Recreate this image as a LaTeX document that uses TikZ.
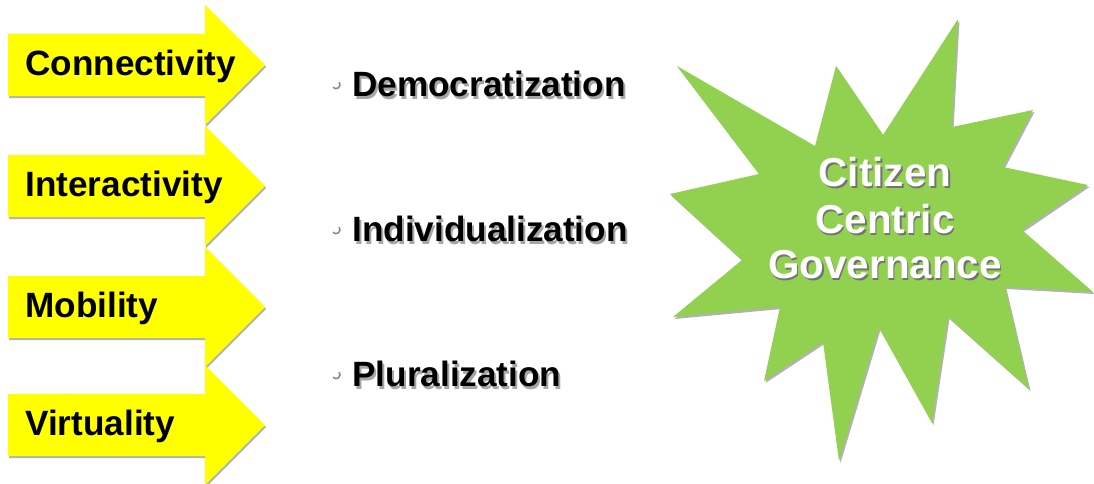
\documentclass[tikz,border=0pt]{standalone}
\usepackage{fontspec}
\setmainfont{Liberation Sans}
\definecolor{starg}{HTML}{92D050}
\definecolor{yel}{HTML}{FFFF00}
\tikzset{
  arrowshape/.style={fill=yel},
  arrowshadow/.style={fill=black!30},
  arrowlbl/.style={font=\bfseries\fontsize{20}{24}\selectfont, anchor=base west, inner sep=0pt, text=black},
  midlbl/.style={font=\bfseries\fontsize{20}{24}\selectfont, anchor=base west, inner sep=0pt, text=black},
  midshadow/.style={midlbl, text=black!35},
  bulletmark/.style={draw=black!45, line width=0.9pt},
  starlbl/.style={font=\bfseries\fontsize{23}{27}\selectfont, anchor=base, inner sep=0pt, text=white},
  starshadow/.style={starlbl, text=black!55},
}
\begin{document}
\begin{tikzpicture}[x=0.02cm,y=-0.02cm]
\useasboundingbox (0,0) rectangle (1094,483);
% arrows
\foreach \c/\t/\n in {65/Connectivity/conn, 186/Interactivity/inter, 307/Mobility/mob, 425/Virtuality/virt} {
  \fill[arrowshadow, shift={(1,2)}] (8,{\c-31}) -- (205,{\c-31}) -- (205,{\c-60}) -- (265,\c) -- (205,{\c+60}) -- (205,{\c+31}) -- (8,{\c+31}) -- cycle;
  \fill[arrowshape] (8,{\c-31}) -- (205,{\c-31}) -- (205,{\c-60}) -- (265,\c) -- (205,{\c+60}) -- (205,{\c+31}) -- (8,{\c+31}) -- cycle;
  \node[arrowlbl] (\n) at (25,{\c+10}) {\t};
}
% middle bullet texts
\foreach \b/\t/\n in {96.7/Democratization/dem, 241.7/Individualization/ind, 386.7/Pluralization/plu} {
  \draw[bulletmark] ({336+4*cos(40)},{\b-12-4*sin(40)}) arc[start angle=-40, end angle=140, radius=4];
  \node[midshadow] at (354,{\b+2.5}) {\t};
  \node[midlbl] (\n) at (352,\b) {\t};
}
% star
\def\starpath{(958,19) -- (952,127) -- (1033,110) -- (1003,167) -- (1088,185) -- (1022,230) -- (1093,292) -- (1005,287) -- (1029,389) -- (948,317) -- (932,423) -- (879,328) -- (839,461) -- (823,342) -- (764,381) -- (780,307) -- (673,317) -- (742,260) -- (670,194) -- (759,174) -- (677,66) -- (815,146) -- (836,66) -- (883,135) -- cycle}
\fill[black!30, shift={(1.5,2)}] \starpath;
\fill[starg] \starpath;
\node[starshadow] at (886.5,188.7) {Citizen};
\node[starshadow] at (886.5,235) {Centric};
\node[starshadow] at (886.5,280) {Governance};
\node[starlbl] (cit) at (885,186.7) {Citizen};
\node[starlbl] (cen) at (885,233) {Centric};
\node[starlbl] (gov) at (885,278) {Governance};
\end{tikzpicture}
\end{document}
